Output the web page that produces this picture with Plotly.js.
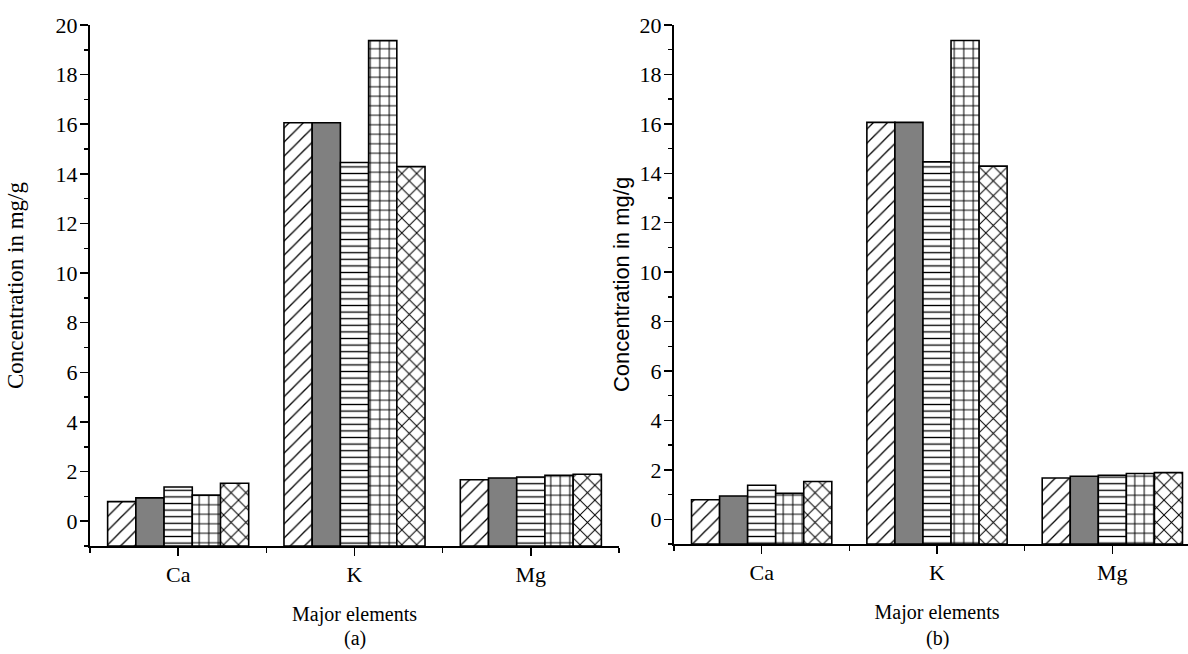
<!DOCTYPE html>
<html>
<head>
<meta charset="utf-8">
<script src="https://cdn.plot.ly/plotly-3.0.1.min.js"></script>
<style>
html, body { margin:0; padding:0; background:#fff; overflow:hidden; width:1188px; height:654px; }
#chart { width:1200px; height:654px; }
</style>
</head>
<body>
<div id="chart"></div>
<script>
// ---- data ----
const categories = ['Ca', 'K', 'Mg'];
const series1 = [0.79, 16.06, 1.67];
const series2 = [0.94, 16.06, 1.74];
const series3 = [1.38, 14.46, 1.78];
const series4 = [1.05, 19.37, 1.85];
const series5 = [1.53, 14.29, 1.89];
const yTickVals = [0, 2, 4, 6, 8, 10, 12, 14, 16, 18, 20];
const yMin = -1;
const panelLabels = ['(a)', '(b)'];
const xTitle = 'Major elements';
const yTitle = 'Concentration in mg/g';

// ---- styles ----
const seriesList = [series1, series2, series3, series4, series5];
const patternStyles = [
  {shape: '/', size: 10, solidity: 0.13},
  {shape: '',  size: 8,  solidity: 0.3},
  {shape: '-', size: 6.6, solidity: 0.2},
  {shape: '+', size: 9.5, solidity: 0.2},
  {shape: 'x', size: 10.5, solidity: 0.18}
];
const fillColors = ['white', '#808080', 'white', 'white', 'white'];
const xIdx = categories.map((c, i) => i);

const serif = '"Liberation Serif", "Times New Roman", serif';
const sans = '"Liberation Sans", Arial, sans-serif';

const traces = [];
['', '2'].forEach((suffix, p) => {
  seriesList.forEach((vals, k) => {
    const ps = patternStyles[k];
    const marker = {
      color: fillColors[k],
      line: {color: 'black', width: 1.6}
    };
    if (ps.shape) {
      marker.pattern = {shape: ps.shape, size: ps.size, solidity: ps.solidity,
                        fgcolor: 'black', bgcolor: 'white', fillmode: 'replace'};
    }
    traces.push({
      type: 'bar',
      x: xIdx,
      base: yMin,
      y: vals.map(v => v - yMin),   // bars drawn from the axis floor up to the value
      customdata: vals,
      hovertemplate: '%{customdata}<extra></extra>',
      xaxis: 'x' + suffix,
      yaxis: 'y' + suffix,
      marker: marker,
      showlegend: false
    });
  });
});

const W = 1200, H = 654;
function xAxis(d0, d1) {
  return {
    domain: [d0 / W, d1 / W],
    range: [-0.5, 2.5],
    tickmode: 'array',
    tickvals: xIdx,
    ticktext: categories,
    ticks: 'outside',
    ticklen: 8,
    tickwidth: 1.5,
    tickcolor: 'black',
    minor: {tickmode: 'linear', tick0: -0.5, dtick: 1, ticks: 'outside', ticklen: 5, tickwidth: 1.5, tickcolor: 'black'},
    showline: true,
    linecolor: 'black',
    linewidth: 2,
    showgrid: false,
    zeroline: false,
    tickfont: {family: serif, size: 22, color: 'black'},
    title: {text: xTitle, font: {family: serif, size: 20, color: 'black'}, standoff: 21},
    fixedrange: true
  };
}
function yAxis(top, bottom, titleFont, standoff) {
  return {
    domain: [1 - bottom / H, 1 - top / H],
    range: [yMin, 20],
    tickmode: 'array',
    tickvals: yTickVals,
    ticks: 'outside',
    ticklen: 8,
    tickwidth: 1.5,
    tickcolor: 'black',
    ticklabelstandoff: -2,
    minor: {tickmode: 'linear', tick0: 0, dtick: 1, ticks: 'outside', ticklen: 4, tickwidth: 1.5, tickcolor: 'black'},
    showline: true,
    linecolor: 'black',
    linewidth: 2,
    showgrid: false,
    zeroline: false,
    tickfont: {family: serif, size: 22, color: 'black'},
    title: {text: yTitle, font: titleFont, standoff: standoff},
    fixedrange: true
  };
}

const layout = {
  width: W,
  height: H,
  margin: {l: 0, r: 0, t: 0, b: 0},
  font: {family: serif, size: 20, color: 'black'},
  paper_bgcolor: 'white',
  plot_bgcolor: 'white',
  barmode: 'group',
  bargap: 0.2,
  bargroupgap: 0,
  showlegend: false,
  xaxis: Object.assign(xAxis(90, 619), {anchor: 'y'}),
  yaxis: Object.assign(yAxis(25, 546, {family: serif, size: 23, color: 'black'}, 26), {anchor: 'x'}),
  xaxis2: Object.assign(xAxis(674, 1200), {anchor: 'y2'}),
  yaxis2: Object.assign(yAxis(25, 544, {family: sans, size: 22, color: 'black'}, 4), {anchor: 'x2'}),
  annotations: [
    {text: panelLabels[0], xref: 'x', yref: 'paper', x: 1, y: 1 - 638 / H, yanchor: 'middle', showarrow: false,
     font: {family: serif, size: 20, color: 'black'}},
    {text: panelLabels[1], xref: 'x2', yref: 'paper', x: 1, y: 1 - 638 / H, yanchor: 'middle', showarrow: false,
     font: {family: serif, size: 20, color: 'black'}}
  ]
};

Plotly.newPlot('chart', traces, layout, {staticPlot: true, displayModeBar: false});
</script>
</body>
</html>
